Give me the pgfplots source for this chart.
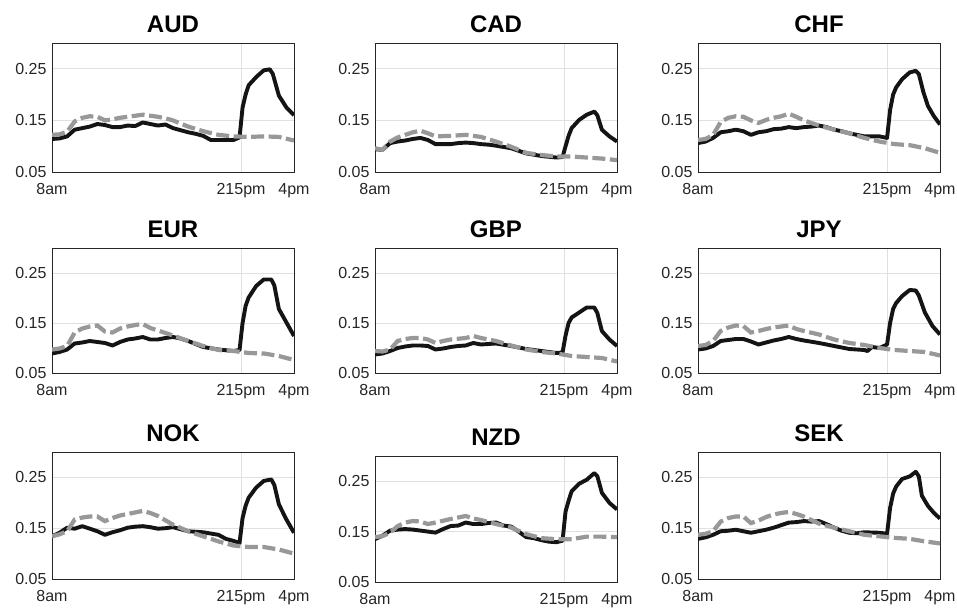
\documentclass[border=0pt]{standalone}
\usepackage{pgfplots}
\pgfplotsset{compat=1.18}
\usepackage{fontspec}
\setmainfont{Liberation Sans}
\definecolor{txtgray}{RGB}{38,38,38}
\definecolor{gridgray}{RGB}{224,224,224}
\definecolor{dashgray}{RGB}{152,152,152}
\pgfplotsset{
  fxpanel/.style={
    scale only axis, width=242pt,
    xmin=8, xmax=16, ymin=0.05, ymax=0.30,
    xtick={8,14.25,16}, xticklabels={8am,215pm,4pm},
    ytick={0.05,0.15,0.25}, yticklabels={0.05,0.15,0.25},
    grid=major, major grid style={draw=gridgray, line width=0.7pt},
    axis line style={draw=txtgray, line width=0.8pt},
    major tick length=0pt,
    /pgf/number format/assume math mode=true,
    tick label style={font=\fontsize{16}{16}\selectfont, text=txtgray},
    xticklabel style={yshift=-8pt},
    yticklabel style={xshift=-2pt},
    every axis title/.style={at={(0.5,1)}, anchor=base, yshift=10pt, font=\bfseries\fontsize{24}{24}\selectfont, text=black},
    anchor=south west,
  },
  blk/.style={black!92, line width=3.9pt, line join=round},
  gry/.style={dashgray, line width=4.2pt, dash pattern=on 13pt off 4.5pt},
}
\begin{document}
\begin{tikzpicture}[x=1pt,y=1pt]
\useasboundingbox (0,0) rectangle (957,607);
% ---------------- Row 1 ----------------
\begin{axis}[fxpanel, height=129pt, at={(52pt,435pt)}, title={AUD}]
\addplot[blk] coordinates {(8,0.114) (8.25,0.115) (8.5,0.119) (8.75,0.132) (9,0.135) (9.25,0.138) (9.5,0.143) (9.75,0.141) (10,0.137) (10.25,0.137) (10.5,0.140) (10.75,0.139) (11,0.146) (11.25,0.143) (11.5,0.140) (11.75,0.142) (12,0.135) (12.25,0.131) (12.5,0.127) (12.75,0.124) (13,0.120) (13.25,0.112) (13.5,0.112) (13.75,0.112) (14,0.112) (14.2,0.117) (14.3,0.175) (14.4,0.200) (14.5,0.218) (14.75,0.234) (15,0.247) (15.2,0.249) (15.3,0.240) (15.5,0.198) (15.75,0.175) (16,0.160)};
\addplot[gry] coordinates {(8,0.122) (8.25,0.123) (8.5,0.128) (8.75,0.148) (9,0.155) (9.25,0.158) (9.5,0.157) (9.75,0.150) (10,0.152) (10.25,0.155) (10.5,0.157) (10.75,0.159) (11,0.161) (11.25,0.159) (11.5,0.157) (11.75,0.154) (12,0.150) (12.5,0.138) (13,0.129) (13.5,0.122) (14,0.119) (14.5,0.118) (15,0.119) (15.5,0.118) (16,0.111)};
\end{axis}
\begin{axis}[fxpanel, height=129pt, at={(375pt,435pt)}, title={CAD}]
\addplot[blk] coordinates {(8,0.094) (8.25,0.093) (8.5,0.106) (8.75,0.109) (9,0.111) (9.25,0.114) (9.5,0.116) (9.75,0.112) (10,0.104) (10.25,0.104) (10.5,0.104) (10.75,0.106) (11,0.107) (11.25,0.106) (11.5,0.104) (11.75,0.103) (12,0.101) (12.5,0.096) (13,0.086) (13.5,0.081) (14,0.078) (14.2,0.079) (14.3,0.100) (14.4,0.120) (14.5,0.135) (14.75,0.151) (15,0.161) (15.25,0.167) (15.35,0.160) (15.5,0.132) (15.75,0.119) (16,0.109)};
\addplot[gry] coordinates {(8,0.096) (8.25,0.093) (8.5,0.109) (8.75,0.117) (9,0.122) (9.25,0.127) (9.5,0.130) (9.75,0.125) (10,0.119) (10.5,0.120) (11,0.122) (11.5,0.118) (12,0.109) (12.5,0.099) (13,0.087) (13.5,0.083) (14,0.080) (14.5,0.080) (15,0.078) (15.5,0.076) (16,0.073)};
\end{axis}
\begin{axis}[fxpanel, height=129pt, at={(698pt,435pt)}, title={CHF}]
\addplot[blk] coordinates {(8,0.106) (8.25,0.109) (8.5,0.116) (8.75,0.127) (9,0.129) (9.25,0.132) (9.5,0.129) (9.75,0.122) (10,0.127) (10.25,0.129) (10.5,0.133) (10.75,0.134) (11,0.137) (11.25,0.135) (11.5,0.137) (11.75,0.138) (12,0.140) (12.25,0.137) (12.5,0.132) (12.75,0.129) (13,0.125) (13.25,0.122) (13.5,0.119) (14,0.119) (14.25,0.116) (14.35,0.170) (14.45,0.200) (14.55,0.214) (14.75,0.230) (15,0.243) (15.2,0.246) (15.3,0.240) (15.45,0.205) (15.6,0.178) (15.8,0.158) (16,0.142)};
\addplot[gry] coordinates {(8,0.112) (8.25,0.114) (8.5,0.122) (8.75,0.147) (9,0.155) (9.25,0.158) (9.5,0.157) (9.75,0.150) (10,0.145) (10.25,0.151) (10.5,0.155) (10.75,0.158) (11,0.163) (11.25,0.157) (11.5,0.150) (12,0.140) (12.5,0.132) (13,0.125) (13.5,0.116) (14,0.109) (14.5,0.104) (15,0.102) (15.5,0.096) (16,0.087)};
\end{axis}
% ---------------- Row 2 ----------------
\begin{axis}[fxpanel, height=125pt, at={(52pt,234pt)}, title={EUR}]
\addplot[blk] coordinates {(8,0.089) (8.25,0.092) (8.5,0.097) (8.75,0.109) (9,0.111) (9.25,0.114) (9.5,0.112) (9.75,0.110) (10,0.105) (10.25,0.112) (10.5,0.117) (10.75,0.119) (11,0.122) (11.25,0.117) (11.5,0.117) (11.75,0.120) (12,0.122) (12.25,0.119) (12.5,0.114) (13,0.102) (13.5,0.097) (14,0.094) (14.2,0.096) (14.3,0.150) (14.4,0.184) (14.5,0.201) (14.75,0.224) (15,0.237) (15.25,0.237) (15.35,0.225) (15.5,0.178) (15.75,0.151) (16,0.124)};
\addplot[gry] coordinates {(8,0.097) (8.25,0.099) (8.5,0.104) (8.75,0.131) (9,0.139) (9.25,0.143) (9.5,0.145) (9.75,0.133) (10,0.131) (10.25,0.139) (10.5,0.143) (10.75,0.146) (11,0.148) (11.25,0.140) (11.5,0.135) (12,0.125) (12.5,0.114) (13,0.104) (13.5,0.096) (14,0.094) (14.5,0.090) (15,0.089) (15.5,0.084) (16,0.076)};
\end{axis}
\begin{axis}[fxpanel, height=125pt, at={(375pt,234pt)}, title={GBP}]
\addplot[blk] coordinates {(8,0.087) (8.25,0.089) (8.5,0.094) (8.75,0.100) (9,0.103) (9.25,0.105) (9.5,0.105) (9.75,0.104) (10,0.097) (10.25,0.099) (10.5,0.102) (10.75,0.104) (11,0.105) (11.25,0.110) (11.5,0.107) (11.75,0.108) (12,0.109) (12.5,0.104) (13,0.098) (13.5,0.094) (14,0.090) (14.2,0.091) (14.3,0.125) (14.4,0.150) (14.5,0.161) (14.75,0.171) (15,0.181) (15.25,0.181) (15.35,0.170) (15.5,0.134) (15.75,0.117) (16,0.104)};
\addplot[gry] coordinates {(8,0.094) (8.25,0.093) (8.5,0.097) (8.75,0.114) (9,0.118) (9.25,0.120) (9.5,0.120) (9.75,0.117) (10,0.110) (10.25,0.114) (10.5,0.117) (11,0.120) (11.25,0.124) (11.5,0.120) (12,0.114) (12.5,0.105) (13,0.097) (13.5,0.092) (14,0.089) (14.5,0.084) (15,0.082) (15.5,0.080) (16,0.073)};
\end{axis}
\begin{axis}[fxpanel, height=125pt, at={(698pt,234pt)}, title={JPY}]
\addplot[blk] coordinates {(8,0.097) (8.25,0.099) (8.5,0.104) (8.75,0.114) (9,0.116) (9.25,0.118) (9.5,0.118) (9.75,0.113) (10,0.107) (10.25,0.111) (10.5,0.115) (10.75,0.118) (11,0.122) (11.25,0.118) (11.5,0.115) (12,0.110) (12.5,0.104) (13,0.098) (13.5,0.096) (13.6,0.094) (13.75,0.102) (14,0.100) (14.25,0.107) (14.35,0.150) (14.45,0.178) (14.55,0.190) (14.75,0.204) (15,0.216) (15.2,0.215) (15.3,0.205) (15.5,0.171) (15.75,0.144) (16,0.127)};
\addplot[gry] coordinates {(8,0.104) (8.25,0.106) (8.5,0.114) (8.75,0.134) (9,0.141) (9.25,0.145) (9.5,0.144) (9.75,0.131) (10,0.134) (10.25,0.138) (10.5,0.141) (11,0.145) (11.25,0.138) (11.5,0.134) (12,0.127) (12.5,0.117) (13,0.110) (13.5,0.106) (14,0.100) (14.5,0.096) (15,0.094) (15.5,0.092) (16,0.085)};
\end{axis}
% ---------------- Row 3 ----------------
\begin{axis}[fxpanel, height=127pt, at={(52pt,28pt)}, title={NOK}]
\addplot[blk] coordinates {(8,0.134) (8.25,0.141) (8.5,0.151) (8.75,0.149) (9,0.154) (9.25,0.149) (9.5,0.144) (9.75,0.137) (10,0.142) (10.25,0.146) (10.5,0.151) (10.75,0.153) (11,0.154) (11.25,0.152) (11.5,0.149) (11.75,0.150) (12,0.152) (12.25,0.148) (12.5,0.144) (13,0.142) (13.5,0.137) (13.75,0.129) (14,0.125) (14.2,0.121) (14.3,0.170) (14.4,0.194) (14.5,0.210) (14.75,0.230) (15,0.243) (15.25,0.246) (15.35,0.235) (15.5,0.197) (15.75,0.167) (16,0.141)};
\addplot[gry] coordinates {(8,0.134) (8.25,0.138) (8.5,0.144) (8.75,0.167) (9,0.171) (9.25,0.173) (9.5,0.173) (9.75,0.164) (10,0.170) (10.25,0.175) (10.5,0.178) (10.75,0.181) (11,0.184) (11.25,0.180) (11.5,0.174) (12,0.157) (12.5,0.144) (13,0.134) (13.5,0.124) (14,0.116) (14.5,0.113) (15,0.113) (15.5,0.108) (16,0.100)};
\end{axis}
\begin{axis}[fxpanel, height=126pt, at={(375pt,25pt)}, title={NZD}]
\addplot[blk] coordinates {(8,0.135) (8.25,0.142) (8.5,0.152) (8.75,0.154) (9,0.155) (9.25,0.154) (9.5,0.152) (9.75,0.150) (10,0.148) (10.25,0.155) (10.5,0.161) (10.75,0.162) (11,0.168) (11.25,0.165) (11.5,0.165) (11.75,0.167) (12,0.168) (12.25,0.162) (12.5,0.160) (12.75,0.150) (13,0.139) (13.25,0.137) (13.5,0.133) (13.75,0.130) (14,0.129) (14.2,0.132) (14.3,0.190) (14.4,0.211) (14.5,0.230) (14.75,0.245) (15,0.253) (15.25,0.266) (15.35,0.260) (15.5,0.227) (15.75,0.207) (16,0.194)};
\addplot[gry] coordinates {(8,0.139) (8.25,0.141) (8.5,0.148) (8.75,0.161) (9,0.168) (9.25,0.171) (9.5,0.170) (9.75,0.165) (10,0.168) (10.5,0.175) (11,0.181) (11.25,0.176) (11.5,0.173) (12,0.165) (12.5,0.158) (13,0.145) (13.5,0.137) (14,0.135) (14.5,0.135) (15,0.140) (15.5,0.140) (16,0.139)};
\end{axis}
\begin{axis}[fxpanel, height=127pt, at={(698pt,28pt)}, title={SEK}]
\addplot[blk] coordinates {(8,0.129) (8.25,0.132) (8.5,0.137) (8.75,0.144) (9,0.145) (9.25,0.147) (9.5,0.144) (9.75,0.141) (10,0.144) (10.25,0.147) (10.5,0.151) (10.75,0.156) (11,0.161) (11.25,0.162) (11.5,0.164) (11.75,0.163) (12,0.164) (12.25,0.158) (12.5,0.151) (12.75,0.145) (13,0.141) (13.25,0.140) (13.5,0.142) (14,0.141) (14.25,0.139) (14.35,0.190) (14.45,0.218) (14.55,0.232) (14.75,0.247) (15,0.252) (15.2,0.261) (15.3,0.252) (15.4,0.214) (15.6,0.194) (15.8,0.180) (16,0.169)};
\addplot[gry] coordinates {(8,0.137) (8.25,0.139) (8.5,0.144) (8.75,0.163) (9,0.170) (9.25,0.173) (9.5,0.173) (9.75,0.160) (10,0.165) (10.25,0.172) (10.5,0.177) (10.75,0.180) (11,0.182) (11.25,0.178) (11.5,0.173) (12,0.159) (12.5,0.151) (13,0.144) (13.5,0.137) (14,0.134) (14.5,0.131) (15,0.129) (15.5,0.124) (16,0.120)};
\end{axis}
\end{tikzpicture}
\end{document}
